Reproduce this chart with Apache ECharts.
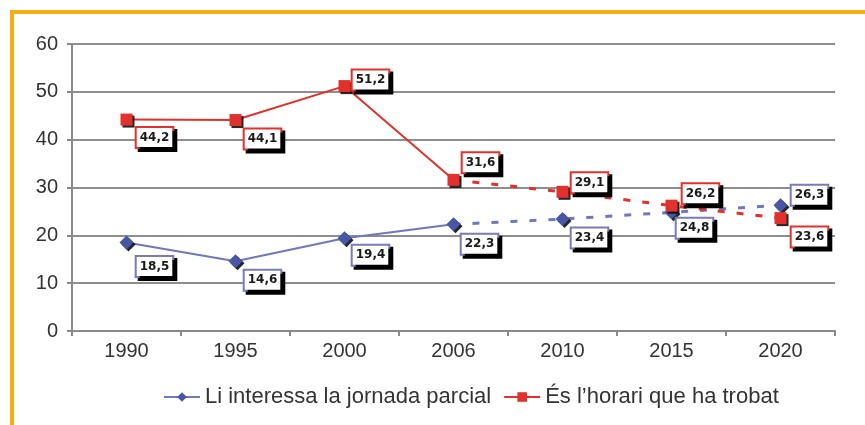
<!DOCTYPE html>
<html>
<head>
<meta charset="utf-8">
<script src="https://cdn.jsdelivr.net/npm/echarts@6/dist/echarts.min.js"></script>
<style>
html,body{margin:0;padding:0;background:#fff;}
#wrap{position:absolute;left:0;top:0;width:865px;height:425px;}
#frame{position:absolute;left:10px;top:10px;width:855px;height:415px;border-top:4px solid #f8ad14;border-left:4px solid #f8ad14;box-sizing:border-box;}
#chart{position:absolute;left:0;top:0;width:865px;height:425px;}
</style>
</head>
<body>
<div id="wrap"><div id="frame"></div><div id="chart"></div></div>
<script>
const categories = ['1990','1995','2000','2006','2010','2015','2020'];
const seriesNames = ['Li interessa la jornada parcial', 'És l\u2019horari que ha trobat'];
const parcial = [18.5, 14.6, 19.4, 22.3, 23.4, 24.8, 26.3];
const horari = [44.2, 44.1, 51.2, 31.6, 29.1, 26.2, 23.6];
const yTicks = [0, 10, 20, 30, 40, 50, 60];
const splitIndex = 3; // solid up to 2006, dashed after

// label placement (pixel offsets from the marker)
const parcialLabelOffsets = [[28,24],[27,19],[26,17],[26,20],[27,19],[23,16],[29,-10]];
const horariLabelOffsets = [[28,18],[27,19],[26,-6],[27,-17],[27,-9],[29,-12],[29,19]];

const BLUE_LINE = '#6f77bd', BLUE_MARK = '#4856a6', BLUE_BORDER = '#7a7ab8';
const RED = '#e2312c';

function fmt(v){ return String(v).replace('.', ','); }

function labelStyle(border){
  return {
    show: true, position: 'inside',
    formatter: p => fmt(p.value),
    fontFamily: 'DejaVu Sans', fontWeight: 'bold', fontSize: 12, color: '#1a1a1a',
    backgroundColor: '#fff', borderColor: border, borderWidth: 2,
    padding: [4, 3, 3, 3],
    shadowColor: '#000', shadowOffsetX: 3, shadowOffsetY: 3, shadowBlur: 0
  };
}

function part(values, offsets, border, solid){
  return values.map((v, i) => {
    if (solid && i > splitIndex) return null;
    if (!solid && i < splitIndex) return null;
    if (!solid && i === splitIndex) return {value: v, symbol: 'none', label: {show: false}};
    return {value: v, label: Object.assign(labelStyle(border), {offset: offsets[i]})};
  });
}

const markShadow = {shadowColor: 'rgba(0,0,0,0.85)', shadowOffsetX: 2, shadowOffsetY: 2, shadowBlur: 0};

const chart = echarts.init(document.getElementById('chart'));
chart.setOption({
  animation: false,
  grid: {left: 72, right: 30, top: 44, bottom: 94},
  legend: {
    data: seriesNames,
    bottom: 12, left: 158,
    itemWidth: 36, itemHeight: 12, itemGap: 12,
    textStyle: {fontFamily: 'Liberation Sans', fontSize: 22, color: '#333'}
  },
  xAxis: {
    type: 'category', data: categories, boundaryGap: true,
    axisLine: {lineStyle: {color: '#8a8a8a', width: 2}},
    axisTick: {show: true, interval: 0, length: 5, lineStyle: {color: '#8a8a8a', width: 2}},
    axisLabel: {fontFamily: 'Liberation Sans', fontSize: 20, color: '#333', margin: 10}
  },
  yAxis: {
    type: 'value', min: yTicks[0], max: yTicks[yTicks.length-1], interval: 10,
    axisLine: {show: true, lineStyle: {color: '#8a8a8a', width: 2}},
    axisTick: {show: true, length: 5, lineStyle: {color: '#8a8a8a', width: 2}},
    splitLine: {lineStyle: {color: '#8e8e8e', width: 2}},
    axisLabel: {fontFamily: 'Liberation Sans', fontSize: 20, color: '#333', margin: 14}
  },
  series: [
    {
      name: seriesNames[0], type: 'line', data: part(parcial, parcialLabelOffsets, BLUE_BORDER, true),
      symbol: 'diamond', symbolSize: 14, z: 3,
      lineStyle: {color: BLUE_LINE, width: 2},
      itemStyle: Object.assign({color: BLUE_MARK}, markShadow)
    },
    {
      name: 'parcial-dashed', type: 'line', data: part(parcial, parcialLabelOffsets, BLUE_BORDER, false),
      symbol: 'diamond', symbolSize: 14, z: 3,
      lineStyle: {color: BLUE_LINE, width: 3, type: [7, 12]},
      itemStyle: Object.assign({color: BLUE_MARK}, markShadow)
    },
    {
      name: seriesNames[1], type: 'line', data: part(horari, horariLabelOffsets, RED, true),
      symbol: 'rect', symbolSize: 12, z: 4,
      lineStyle: {color: RED, width: 2},
      itemStyle: Object.assign({color: RED}, markShadow)
    },
    {
      name: 'horari-dashed', type: 'line', data: part(horari, horariLabelOffsets, RED, false),
      symbol: 'rect', symbolSize: 12, z: 4,
      lineStyle: {color: RED, width: 3, type: [7, 12]},
      itemStyle: Object.assign({color: RED}, markShadow)
    }
  ]
});
</script>
</body>
</html>
